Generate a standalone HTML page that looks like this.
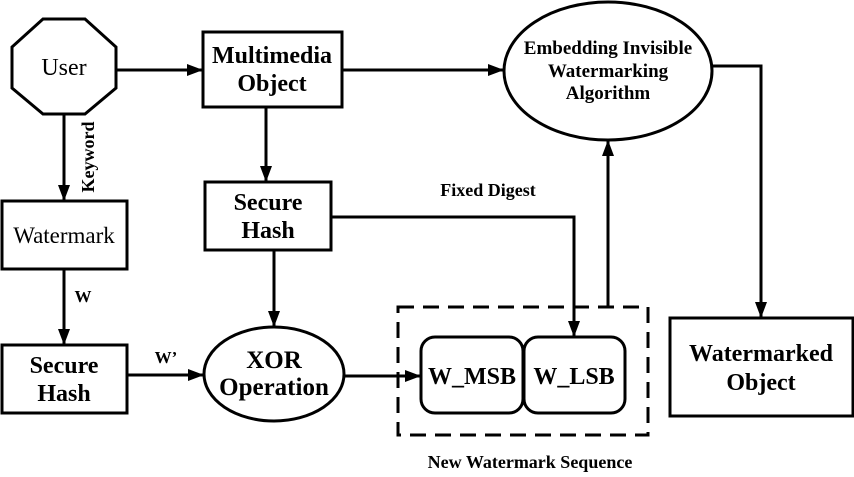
<!DOCTYPE html>
<html><head><meta charset="utf-8"><style>body{margin:0;background:#fff}svg{display:block}</style></head><body>
<svg width="854" height="477" viewBox="0 0 854 477" xmlns="http://www.w3.org/2000/svg" style="font-family:'Liberation Serif',serif">
<defs><marker id="b" markerWidth="16" markerHeight="12" refX="15" refY="6" orient="auto" markerUnits="userSpaceOnUse"><path d="M0,0 L16,6 L0,12 z" fill="#000"/></marker></defs>
<g fill="none" stroke="#000" stroke-width="3">
<polygon points="43,19 85,19 116,47 116,88 85,114 43,114 12,88 12,47"/>
<rect x="203" y="32" width="139" height="75"/>
<ellipse cx="608" cy="71" rx="104" ry="69"/>
<rect x="670" y="318" width="183" height="98"/>
<rect x="205" y="182" width="126" height="68"/>
<rect x="2" y="201" width="125" height="68"/>
<rect x="2" y="345" width="125" height="68"/>
<ellipse cx="274" cy="374" rx="70" ry="47"/>
<rect x="398" y="307" width="250" height="128" stroke-dasharray="16,9"/>
<rect x="421" y="337" width="102" height="76" rx="14"/>
<rect x="524" y="337" width="101" height="76" rx="14"/>
<g marker-end="url(#b)">
<line x1="116" y1="70" x2="202" y2="70"/>
<line x1="342" y1="70" x2="503" y2="70"/>
<polyline points="712,66 761,66 761,317"/>
<line x1="266" y1="107" x2="266" y2="181"/>
<polyline points="331,217 574,217 574,336"/>
<polyline points="608,307 608,141"/>
<line x1="64" y1="114" x2="64" y2="200"/>
<line x1="64" y1="269" x2="64" y2="344"/>
<line x1="127" y1="375" x2="203" y2="375"/>
<line x1="274" y1="250" x2="274" y2="326"/>
<line x1="344" y1="376" x2="420" y2="376"/>
</g></g>
<g text-anchor="middle" fill="#000">
<text x="64" y="75" font-size="24">User</text>
<text x="272" y="63" font-size="24" font-weight="bold">Multimedia</text>
<text x="272" y="91" font-size="24" font-weight="bold">Object</text>
<text x="608" y="54" font-size="19" font-weight="bold">Embedding Invisible</text>
<text x="608" y="77" font-size="19" font-weight="bold">Watermarking</text>
<text x="608" y="99" font-size="19" font-weight="bold">Algorithm</text>
<text x="761" y="361" font-size="24" font-weight="bold">Watermarked</text>
<text x="761" y="390" font-size="24" font-weight="bold">Object</text>
<text x="268" y="210" font-size="24" font-weight="bold">Secure</text>
<text x="268" y="238" font-size="24" font-weight="bold">Hash</text>
<text x="64" y="243" font-size="23">Watermark</text>
<text x="64" y="373" font-size="24" font-weight="bold">Secure</text>
<text x="64" y="401" font-size="24" font-weight="bold">Hash</text>
<text x="274" y="368" font-size="25" font-weight="bold">XOR</text>
<text x="274" y="395" font-size="25" font-weight="bold">Operation</text>
<text x="472" y="384" font-size="24" font-weight="bold">W_MSB</text>
<text x="574" y="384" font-size="24" font-weight="bold">W_LSB</text>
<text x="488" y="196" font-size="18" font-weight="bold">Fixed Digest</text>
<text x="530" y="468" font-size="18" font-weight="bold">New Watermark Sequence</text>
<text x="83" y="302" font-size="17" font-weight="bold">W</text>
<text x="166" y="363" font-size="17" font-weight="bold">W’</text>
<text transform="translate(94,157) rotate(-90)" font-size="18" font-weight="bold">Keyword</text>
</g>
</svg>
</body></html>
